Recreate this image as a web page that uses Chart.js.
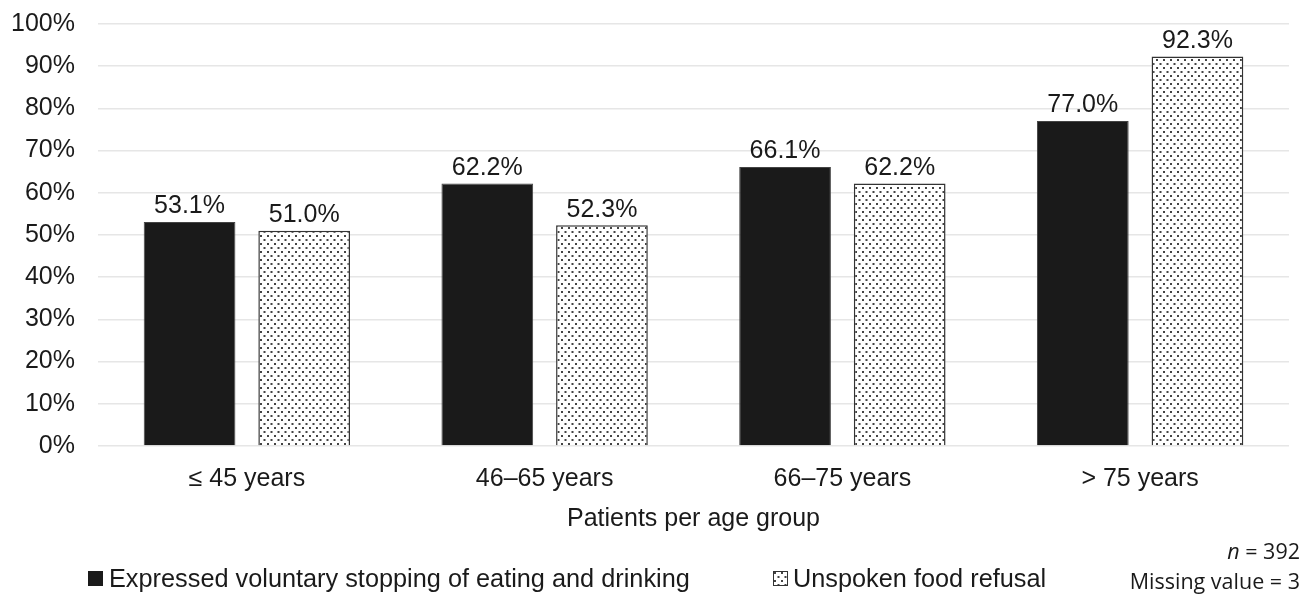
<!DOCTYPE html>
<html>
<head>
<meta charset="utf-8">
<script src="https://cdn.jsdelivr.net/npm/chart.js@4.4.1/dist/chart.umd.min.js"></script>
<style>
  body { margin: 0; background: #fff; overflow: hidden; }
  #wrap { position: relative; width: 1309px; height: 600px; overflow: hidden; font-family: "Liberation Sans", Arial, sans-serif; color: #1a1a1a; }
  #chart { position: absolute; left: 0; top: -14px; }
  #legend { position: absolute; top: 563px; left: 88px; font-size: 25.3px; white-space: nowrap; }
  .item { position: absolute; top: 0; display: flex; align-items: center; height: 30px; }
  .swatch { width: 15px; height: 15px; margin-right: 6px; box-sizing: border-box; }
  #note { position: absolute; right: 9px; top: 536px; text-align: right; font-family: "Open Sans", "Noto Sans", sans-serif; font-size: 21.5px; line-height: 30px; color: #1a1a1a; }
</style>
</head>
<body>
<div id="wrap">
  <canvas id="chart" width="1309" height="614"></canvas>
  <div id="legend">
    <div class="item" style="left:0"><div class="swatch" style="background:#1a1a1a"></div>Expressed voluntary stopping of eating and drinking</div>
    <div class="item" style="left:685px"><canvas class="swatch" id="sw2" width="15" height="15" style="margin-right:5px"></canvas>Unspoken food refusal</div>
  </div>
  <div id="note"><i>n</i> = 392<br>Missing value = 3</div>
</div>
<script>
const categories = ["≤ 45 years", "46–65 years", "66–75 years", "> 75 years"];
const expressedVSED = [53.1, 62.2, 66.1, 77.0];
const unspokenRefusal = [51.0, 52.3, 62.2, 92.3];
const yTicks = [0, 10, 20, 30, 40, 50, 60, 70, 80, 90, 100];

const FONT = '"Liberation Sans", Arial, sans-serif';

// dotted fill like the printed figure
function makeDots() {
  const c = document.createElement("canvas");
  c.width = 7;
  c.height = 8;
  const g = c.getContext("2d");
  g.fillStyle = "#fff";
  g.fillRect(0, 0, 7, 8);
  g.fillStyle = "#444";
  g.fillRect(1, 1, 2, 2);
  g.fillRect(4.5, 5, 2, 2);
  return c;
}
const dotTile = makeDots();
const ctx = document.getElementById("chart").getContext("2d");
const dots = ctx.createPattern(dotTile, "repeat");

const sw = document.getElementById("sw2").getContext("2d");
sw.fillStyle = sw.createPattern(dotTile, "repeat");
sw.fillRect(0, 0, 15, 15);
sw.strokeStyle = "#333";
sw.lineWidth = 1;
sw.strokeRect(0.5, 0.5, 14, 14);

const valueLabels = {
  id: "valueLabels",
  afterDatasetsDraw(chart) {
    const c = chart.ctx;
    c.save();
    c.font = "25px " + FONT;
    c.fillStyle = "#1a1a1a";
    c.textAlign = "center";
    c.textBaseline = "bottom";
    chart.data.datasets.forEach((ds, i) => {
      chart.getDatasetMeta(i).data.forEach((bar, j) => {
        c.fillText(ds.data[j].toFixed(1) + "%", bar.x, bar.y - 3);
      });
    });
    c.restore();
  },
};

new Chart(ctx, {
  type: "bar",
  data: {
    labels: categories,
    datasets: [
      {
        label: "Expressed voluntary stopping of eating and drinking",
        data: expressedVSED,
        backgroundColor: "#1a1a1a",
        borderColor: "#444",
        borderWidth: 1,
      },
      {
        label: "Unspoken food refusal",
        data: unspokenRefusal,
        backgroundColor: dots,
        borderColor: "#333",
        borderWidth: 1.5,
      },
    ],
  },
  options: {
    responsive: false,
    animation: false,
    categoryPercentage: 0.77,
    barPercentage: 0.8,
    layout: { padding: { top: 0, right: 20, bottom: 66, left: 6 } },
    plugins: {
      legend: { display: false },
      tooltip: { enabled: false },
    },
    scales: {
      x: {
        grid: { display: false },
        border: { display: false },
        ticks: {
          color: "#1a1a1a",
          font: { family: FONT, size: 25 },
          padding: 10,
        },
        title: {
          display: true,
          text: "Patients per age group",
          color: "#1a1a1a",
          font: { family: FONT, size: 25 },
          padding: { top: 0, bottom: 0 },
        },
      },
      y: {
        min: 0,
        max: 100,
        afterBuildTicks: (axis) => {
          axis.ticks = yTicks.map((v) => ({ value: v }));
        },
        afterFit: (axis) => {
          axis.width = 92;
        },
        grid: { color: "#e6e6e6", lineWidth: 1.5, drawTicks: false },
        border: { display: false },
        ticks: {
          color: "#1a1a1a",
          font: { family: FONT, size: 25 },
          padding: 23,
          callback: (v) => v + "%",
        },
      },
    },
  },
  plugins: [valueLabels],
});
</script>
</body>
</html>
